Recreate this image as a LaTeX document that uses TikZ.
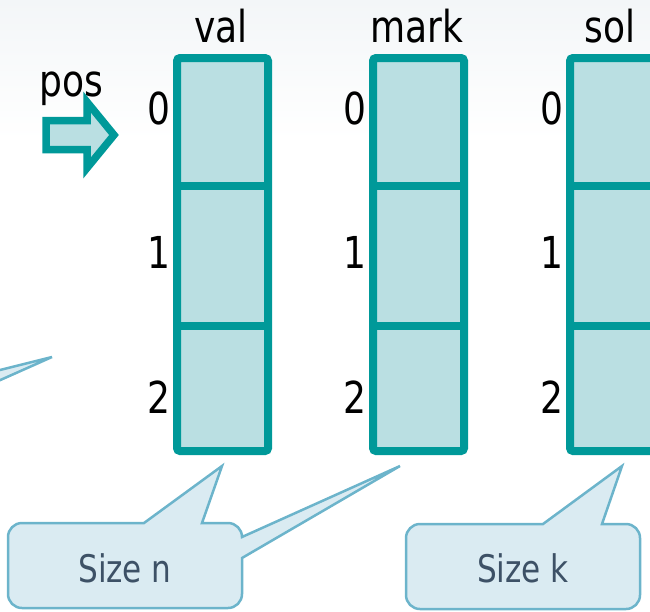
\documentclass[tikz,border=0pt]{standalone}
\usepackage{fontspec}
\setmainfont{DejaVu Sans Condensed}[FakeStretch=0.91]
\definecolor{cellline}{RGB}{0,153,153}
\definecolor{cellfill}{RGB}{186,223,226}
\definecolor{callline}{RGB}{108,180,203}
\definecolor{callfill}{RGB}{218,235,242}
\definecolor{calltext}{RGB}{61,81,102}
\definecolor{haze}{RGB}{243,246,248}
\begin{document}
\begin{tikzpicture}[x=1pt,y=1pt,
  cellbox/.style={draw=cellline, fill=cellfill, line width=8pt, rounded corners=3pt},
  divider/.style={draw=cellline, line width=8pt},
  idx/.style={anchor=base east, inner sep=0pt, font=\fontsize{44}{48}\selectfont},
  title/.style={anchor=base, inner sep=0pt, font=\fontsize{44}{48}\selectfont},
  bubble/.style={draw=callline, fill=callfill, line width=2.5pt, line join=miter},
  bubbletext/.style={anchor=base, inner sep=0pt, text=calltext, font=\fontsize{38}{42}\selectfont},
  posarrow/.style={draw=cellline, fill=cellfill, line width=7.5pt, line join=miter}]

\useasboundingbox (0,0) rectangle (650,-611);
\clip (0,0) rectangle (650,-611);

% faint backdrop at the top
\fill[top color=haze, bottom color=white] (0,0) rectangle (650,-140);

% the three arrays, three cells each
\foreach \name/\dx/\tx in {val/0/221, mark/196/417, sol/393/610}{
  \begin{scope}[xshift=\dx pt]
    \draw[cellbox] (177,-58) rectangle (268,-451);
    \draw[divider] (177,-185.5) -- (268,-185.5);
    \draw[divider] (177,-325.5) -- (268,-325.5);
    \node[idx] (\name-i0) at (171,-124) {0};
    \node[idx] (\name-i1) at (171,-268) {1};
    \node[idx] (\name-i2) at (171,-413) {2};
  \end{scope}
  \node[title] (\name-title) at (\tx,-42) {\name};
}

% position marker
\node[title] (pos) at (71,-96) {pos};
\draw[posarrow] (46,-120.5) -- (87,-120.5) -- (87,-102) -- (114,-135)
  -- (87,-168) -- (87,-149.5) -- (46,-149.5) -- cycle;

% callout entering from the left edge
\draw[bubble] (-40,-380) -- (52,-357) -- (-40,-398);

% callout "Size n" pointing at val and mark
\draw[bubble] (22,-523) -- (144,-523) -- (222,-466) -- (202,-523) -- (228,-523)
  arc[start angle=90, end angle=0, radius=14]
  -- (400,-466) -- (242,-558) -- (242,-594)
  arc[start angle=0, end angle=-90, radius=14]
  -- (22,-608)
  arc[start angle=270, end angle=180, radius=14]
  -- (8,-537)
  arc[start angle=180, end angle=90, radius=14] -- cycle;
\node[bubbletext] (sizen) at (125,-582) {Size n};

% callout "Size k" pointing at sol
\draw[bubble] (420,-524) -- (543,-524) -- (622,-466) -- (602,-524) -- (626,-524)
  arc[start angle=90, end angle=0, radius=14]
  -- (640,-595)
  arc[start angle=0, end angle=-90, radius=14]
  -- (420,-609)
  arc[start angle=270, end angle=180, radius=14]
  -- (406,-538)
  arc[start angle=180, end angle=90, radius=14] -- cycle;
\node[bubbletext] (sizek) at (523,-582) {Size k};
\end{tikzpicture}
\end{document}
